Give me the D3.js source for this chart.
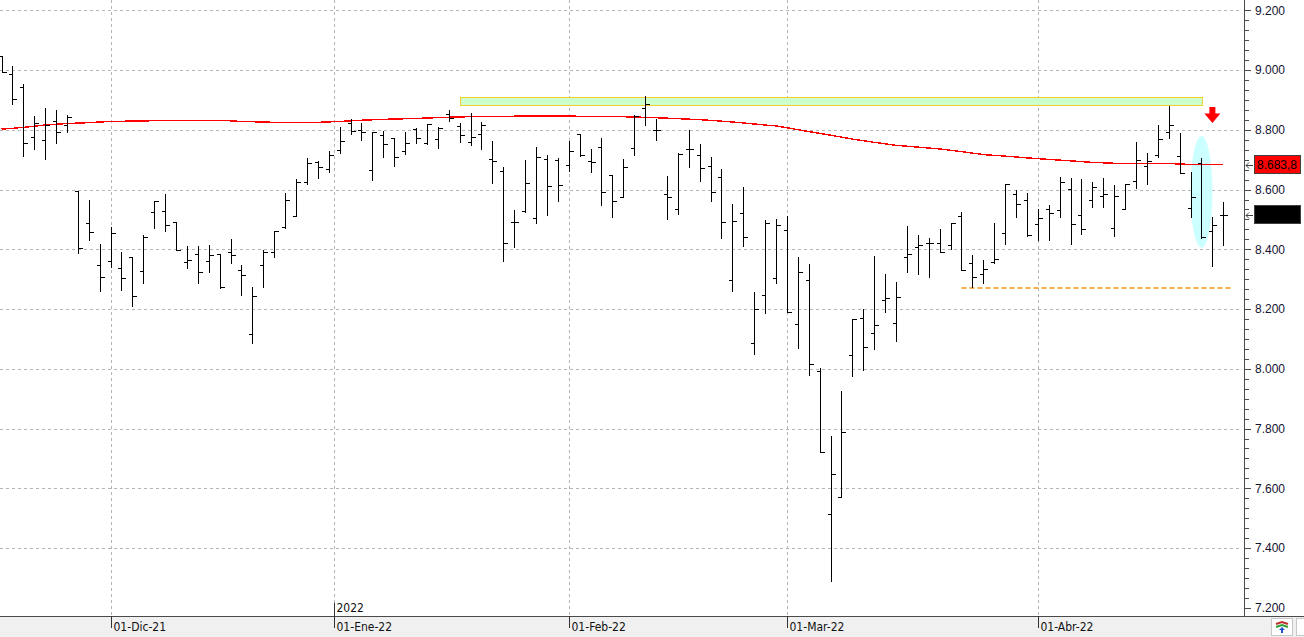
<!DOCTYPE html>
<html>
<head>
<meta charset="utf-8">
<script src="https://cdn.jsdelivr.net/npm/d3@7"></script>
<style>
  body { margin: 0; background: #fff; }
  svg { display: block; }
</style>
</head>
<body>
<div id="chart"></div>
<script>
// Daily OHLC bars (index 0 = first bar on the left)
const opens = [
  9047, 8987, 8943, 8776, 8766, 8829, 8816, 8595, 8488, 8347,
  8361, 8337, 8374, 8327, 8525, 8528, 8491, 8357, 8384, 8361,
  8384, 8391, 8331, 8116, 8347, 8391, 8475, 8511, 8625, 8692,
  8669, 8732, 8823, 8799, 8665, 8783, 8773, 8729, 8803, 8756,
  8769, 8853, 8813, 8759, 8786, 8702, 8662, 8491, 8528, 8505,
  8702, 8699, 8682, 8786, 8696, 8742, 8649, 8575, 8739, 8873,
  8799, 8585, 8535, 8736, 8716, 8679, 8642, 8297, 8522, 8086,
  8247, 8304, 8465, 8150, 8297, 7993, 7514, 7571, 8046, 8170,
  8120, 8230, 8153, 8374, 8408, 8421, 8421, 8414, 8511, 8354,
  8317, 8357, 8455, 8585, 8565, 8485, 8535, 8532, 8602, 8515,
  8565, 8578, 8471, 8535, 8629, 8679, 8716, 8793, 8712, 8538,
  8689, 8461, 8515
];
const highs = [
  9047, 9014, 8953, 8846, 8873, 8866, 8850, 8595, 8565, 8418,
  8475, 8391, 8374, 8448, 8562, 8585, 8491, 8411, 8411, 8414,
  8384, 8434, 8347, 8274, 8398, 8461, 8588, 8635, 8706, 8696,
  8729, 8809, 8836, 8823, 8793, 8796, 8773, 8793, 8806, 8819,
  8809, 8866, 8823, 8856, 8826, 8763, 8675, 8532, 8699, 8742,
  8716, 8706, 8763, 8786, 8736, 8773, 8649, 8702, 8850, 8913,
  8836, 8645, 8722, 8799, 8752, 8709, 8669, 8552, 8609, 8257,
  8498, 8501, 8511, 8374, 8351, 8003, 7775, 7926, 8167, 8200,
  8378, 8317, 8291, 8478, 8448, 8438, 8468, 8488, 8525, 8381,
  8364, 8488, 8619, 8599, 8588, 8535, 8548, 8642, 8639, 8635,
  8625, 8639, 8615, 8619, 8759, 8722, 8816, 8880, 8789, 8659,
  8706, 8508, 8558
];
const lows = [
  8993, 8886, 8712, 8736, 8702, 8756, 8793, 8388, 8431, 8260,
  8341, 8264, 8210, 8287, 8471, 8461, 8398, 8337, 8287, 8324,
  8270, 8354, 8247, 8086, 8274, 8374, 8471, 8511, 8619, 8639,
  8659, 8722, 8786, 8766, 8632, 8709, 8679, 8719, 8756, 8752,
  8739, 8829, 8759, 8749, 8736, 8622, 8361, 8408, 8525, 8488,
  8515, 8562, 8662, 8712, 8659, 8548, 8508, 8575, 8716, 8816,
  8766, 8501, 8518, 8675, 8629, 8562, 8438, 8260, 8411, 8050,
  8187, 8287, 8190, 8070, 7979, 7722, 7290, 7571, 7976, 7996,
  8066, 8190, 8093, 8324, 8317, 8307, 8391, 8401, 8331, 8274,
  8287, 8354, 8418, 8508, 8445, 8431, 8431, 8508, 8418, 8451,
  8542, 8542, 8445, 8535, 8605, 8619, 8709, 8773, 8655, 8508,
  8438, 8344, 8414
];
const closes = [
  8993, 8903, 8756, 8823, 8816, 8793, 8843, 8404, 8458, 8307,
  8455, 8304, 8244, 8441, 8562, 8481, 8398, 8364, 8324, 8381,
  8274, 8381, 8314, 8244, 8391, 8461, 8565, 8625, 8689, 8675,
  8716, 8763, 8796, 8793, 8793, 8753, 8709, 8756, 8773, 8819,
  8806, 8840, 8783, 8776, 8816, 8696, 8421, 8491, 8622, 8709,
  8612, 8615, 8729, 8716, 8692, 8592, 8562, 8675, 8846, 8886,
  8799, 8575, 8719, 8736, 8672, 8592, 8491, 8495, 8441, 8200,
  8488, 8481, 8190, 8324, 8016, 7722, 7648, 7788, 8167, 8073,
  8147, 8237, 8240, 8384, 8414, 8421, 8391, 8488, 8331, 8307,
  8334, 8368, 8619, 8552, 8448, 8505, 8521, 8625, 8485, 8468,
  8609, 8585, 8578, 8619, 8699, 8696, 8769, 8816, 8655, 8575,
  8441, 8481, 8515
];

// Moving average, read at selected bars
const maIndex = [0, 2, 4, 6, 8, 10, 15, 20, 22, 25, 29, 31, 33, 35, 38, 41, 44, 50, 55, 58,
  61, 64, 66, 68, 70, 71, 72, 74, 76, 78, 80, 82, 84, 86, 88, 90, 92, 94, 96, 98,
  100, 102, 107, 108, 112];
const maValue = [8802, 8808, 8816, 8821, 8824, 8828, 8831, 8832, 8828, 8825, 8825, 8828, 8832, 8835, 8838, 8842, 8845, 8846, 8845, 8843,
  8839, 8834, 8829, 8823, 8816, 8813, 8807, 8794, 8782, 8769, 8758, 8748, 8742, 8736, 8727, 8717, 8712, 8706, 8701, 8696,
  8691, 8688, 8688, 8685, 8683.8];

// X axis date ticks (bar index positions)
const dateTickIndex = [10, 30.5, 52, 72, 95];
const dateTickLabels = ["01-Dic-21", "01-Ene-22", "01-Feb-22", "01-Mar-22", "01-Abr-22"];
const yearTickIndex = [30.5];
const yearTickLabels = ["2022"];

// Y axis ticks
const yMajorTicks = [7200, 7400, 7600, 7800, 8000, 8200, 8400, 8600, 8800, 9000, 9200];

// Annotations
const resistanceZone = { from: 42, to: 110, top: 8909, bottom: 8882 };
const supportLine = { from: 88, to: 112.8, level: 8271 };
const highlight = { index: 110, center: 8592, halfRange: 187 };
const arrowMark = { index: 111, top: 8876, tip: 8823 };
const lastMa = 8683.8;
const lastClose = closes[closes.length - 1];

const W = 1304, H = 637;
const plotRight = 1244, plotBottom = 616;

const svg = d3.select("#chart").append("svg")
    .attr("width", W)
    .attr("height", H)
    .style("font-family", "'Liberation Sans', Arial, sans-serif");

svg.append("rect").attr("width", W).attr("height", H).attr("fill", "#fff");

const x = d3.scaleLinear().domain([0, 112]).range([1.5, 1223.3]);
const y = d3.scaleLinear().domain([7200, 9200]).range([607.8, 10.3]);

const px = v => Math.round(v) + 0.5;

svg.append("clipPath").attr("id", "plotclip")
  .append("rect").attr("x", 0).attr("y", 0).attr("width", plotRight).attr("height", plotBottom);

const plot = svg.append("g").attr("clip-path", "url(#plotclip)");

// Grid
plot.selectAll(".hgrid")
  .data(yMajorTicks.filter(d => d > 7200))
  .enter().append("line")
    .attr("x1", 0).attr("x2", plotRight - 3)
    .attr("y1", d => px(y(d))).attr("y2", d => px(y(d)))
    .attr("stroke", "#b4b4b4")
    .attr("stroke-dasharray", "3,3")
    .style("shape-rendering", "crispEdges");

plot.selectAll(".vgrid")
  .data(dateTickIndex)
  .enter().append("line")
    .attr("x1", d => px(x(d))).attr("x2", d => px(x(d)))
    .attr("y1", 0).attr("y2", plotBottom)
    .attr("stroke", "#b4b4b4")
    .attr("stroke-dasharray", "3,3")
    .style("shape-rendering", "crispEdges");

// Green resistance band
plot.append("rect")
    .attr("x", px(x(resistanceZone.from)))
    .attr("y", px(y(resistanceZone.top)))
    .attr("width", Math.round(x(resistanceZone.to) - x(resistanceZone.from)))
    .attr("height", Math.round(y(resistanceZone.bottom) - y(resistanceZone.top)))
    .attr("fill", "#ccffcc")
    .attr("stroke", "#f0d030")
    .style("shape-rendering", "crispEdges");

// Cyan highlight ellipse
plot.append("ellipse")
    .attr("cx", x(highlight.index))
    .attr("cy", y(highlight.center))
    .attr("rx", 11)
    .attr("ry", y(highlight.center - highlight.halfRange) - y(highlight.center))
    .attr("fill", "#ccffff");

// Orange support line
plot.append("line")
    .attr("x1", x(supportLine.from)).attr("x2", x(supportLine.to))
    .attr("y1", Math.round(y(supportLine.level))).attr("y2", Math.round(y(supportLine.level)))
    .attr("stroke", "#ffaa55")
    .attr("stroke-width", 2)
    .attr("stroke-dasharray", "5,3");

// Moving average
const maLine = d3.line()
    .x((d, i) => x(maIndex[i]))
    .y(d => y(d));

plot.append("path")
    .datum(maValue)
    .attr("fill", "none")
    .attr("stroke", "#ff0000")
    .attr("stroke-width", 1.4)
    .style("shape-rendering", "crispEdges")
    .attr("d", maLine);

// OHLC bars
const bars = plot.append("g")
    .attr("stroke", "#000")
    .attr("stroke-width", 1)
    .style("shape-rendering", "crispEdges");

opens.forEach(function(o, i) {
    const bx = px(x(i));
    bars.append("line")
        .attr("x1", bx).attr("x2", bx)
        .attr("y1", Math.round(y(highs[i]))).attr("y2", Math.round(y(lows[i])) + 1);
    bars.append("line")
        .attr("x1", bx - 4).attr("x2", bx)
        .attr("y1", px(y(o))).attr("y2", px(y(o)));
    bars.append("line")
        .attr("x1", bx).attr("x2", bx + 4)
        .attr("y1", px(y(closes[i]))).attr("y2", px(y(closes[i])));
});

// Red down arrow
const ax = x(arrowMark.index), ayTop = y(arrowMark.top), ayTip = y(arrowMark.tip);
const ayMid = ayTop + (ayTip - ayTop) * 0.4;
plot.append("path")
    .attr("d", `M${ax - 3},${ayTop} L${ax + 3},${ayTop} L${ax + 3},${ayMid} L${ax + 8},${ayMid} L${ax},${ayTip} L${ax - 8},${ayMid} L${ax - 3},${ayMid} Z`)
    .attr("fill", "#ff0000");

// Bottom strip
svg.append("rect")
    .attr("x", 0).attr("y", plotBottom + 1)
    .attr("width", W).attr("height", H - plotBottom - 1)
    .attr("fill", "#f0f0f0");

svg.append("line")
    .attr("x1", 0).attr("x2", W)
    .attr("y1", plotBottom + 0.5).attr("y2", plotBottom + 0.5)
    .attr("stroke", "#4a4a4a")
    .style("shape-rendering", "crispEdges");

// Y axis (right)
svg.append("line")
    .attr("x1", plotRight + 0.5).attr("x2", plotRight + 0.5)
    .attr("y1", 0).attr("y2", plotBottom)
    .attr("stroke", "#4a4a4a")
    .style("shape-rendering", "crispEdges");

const minorTicks = d3.range(7200, 9200.1, 200 / 6).filter(v => Math.abs(v % 200) > 1 && Math.abs(v % 200 - 200) > 1);
svg.selectAll(".ymin")
  .data(minorTicks)
  .enter().append("line")
    .attr("x1", plotRight).attr("x2", plotRight + 5)
    .attr("y1", d => px(y(d))).attr("y2", d => px(y(d)))
    .attr("stroke", "#4a4a4a")
    .style("shape-rendering", "crispEdges");

svg.selectAll(".ymaj")
  .data(yMajorTicks)
  .enter().append("line")
    .attr("x1", plotRight).attr("x2", plotRight + 7)
    .attr("y1", d => px(y(d))).attr("y2", d => px(y(d)))
    .attr("stroke", "#4a4a4a")
    .style("shape-rendering", "crispEdges");

const fmt = d3.formatLocale({ decimal: ",", thousands: ".", grouping: [3], currency: ["", "€"] });
svg.selectAll(".ylab")
  .data(yMajorTicks)
  .enter().append("text")
    .attr("x", plotRight + 11)
    .attr("y", d => y(d))
    .attr("dy", "0.35em")
    .attr("fill", "#141432")
    .style("font-size", "12px")
    .text(d => fmt.format(",.0f")(d));

// Value boxes on the axis
function valueBox(value, fill, label) {
    const cy = Math.round(y(value));
    svg.append("rect")
        .attr("x", 1254.5).attr("y", cy - 9.5)
        .attr("width", 46).attr("height", 18)
        .attr("fill", fill)
        .attr("stroke", "#404040")
        .style("shape-rendering", "crispEdges");
    svg.append("text")
        .attr("x", 1257).attr("y", cy)
        .attr("dy", "0.36em")
        .attr("fill", "#000")
        .style("font-size", "12px")
        .text(label);
    svg.append("path")
        .attr("d", `M1253,${cy + 0.5} L1246,${cy + 0.5} M1249,${cy - 2.5} L1246,${cy + 0.5} L1249,${cy + 3.5}`)
        .attr("fill", "none")
        .attr("stroke", "#404040");
}
valueBox(lastMa, "#ff0000", fmt.format(",.1f")(lastMa));
valueBox(lastClose, "#000000", fmt.format(",.1f")(lastClose));

// X axis date ticks
const xfont = "'DejaVu Sans Condensed', 'Liberation Sans Narrow', sans-serif";
dateTickIndex.forEach(function(d, i) {
    const tx = px(x(d));
    svg.append("line")
        .attr("x1", tx).attr("x2", tx)
        .attr("y1", plotBottom).attr("y2", plotBottom + 12)
        .attr("stroke", "#333")
        .style("shape-rendering", "crispEdges");
    svg.append("text")
        .attr("x", tx + 2).attr("y", plotBottom + 15)
        .style("font-family", xfont)
        .style("font-size", "12px")
        .attr("fill", "#111")
        .text(dateTickLabels[i]);
});

yearTickIndex.forEach(function(d, i) {
    const tx = px(x(d));
    svg.append("line")
        .attr("x1", tx).attr("x2", tx)
        .attr("y1", plotBottom - 13).attr("y2", plotBottom)
        .attr("stroke", "#333")
        .style("shape-rendering", "crispEdges");
    svg.append("text")
        .attr("x", tx + 2).attr("y", plotBottom - 4)
        .style("font-family", xfont)
        .style("font-size", "12px")
        .attr("fill", "#111")
        .text(yearTickLabels[i]);
});

// Small toolbar icons bottom right
svg.append("rect")
    .attr("x", 1271.5).attr("y", 618.5).attr("width", 21).attr("height", 17)
    .attr("fill", "#fff").attr("stroke", "#c8c8c8");
svg.append("path").attr("d", "M1276,624 L1282,622 L1288,624").attr("stroke", "#c03030").attr("stroke-width", 2).attr("fill", "none");
svg.append("path").attr("d", "M1276,627 L1282,625 L1288,627").attr("stroke", "#30a030").attr("stroke-width", 2).attr("fill", "none");
svg.append("path").attr("d", "M1279,630 L1282,627 L1285,630 Z M1281,630 L1283,630 L1283,633 L1281,633 Z").attr("fill", "#2050d0");
svg.append("rect")
    .attr("x", 1296.5).attr("y", 618.5).attr("width", 10).attr("height", 17)
    .attr("fill", "#fff").attr("stroke", "#c8c8c8");
</script>
</body>
</html>
